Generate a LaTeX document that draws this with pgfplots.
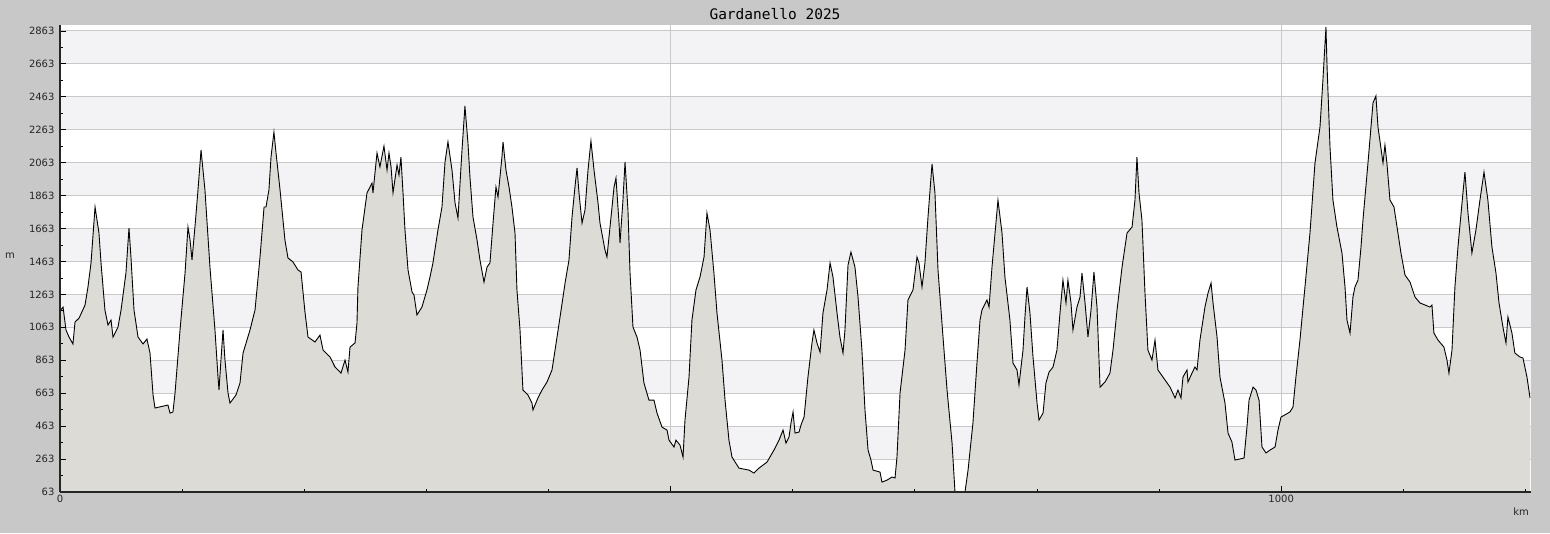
\documentclass[border=0pt]{standalone}
\usepackage{fontspec}
\setmainfont{DejaVu Sans}
\newfontfamily\titlefont{DejaVu Sans Mono}
\usepackage{pgfplots}
\usepackage{pgfplotstable}
\pgfplotsset{compat=1.18}

\definecolor{bgc}{HTML}{C8C8C8}
\definecolor{bandc}{HTML}{F3F2F5}
\definecolor{gridc}{HTML}{C9C9C9}
\definecolor{fillc}{HTML}{DCDBD5}

% elevation profile: km, m
\pgfplotstableread{
km ele
0 1165
0.6 1168
2.5 1186
4.9 1047
7.4 1004
10.6 962
12.3 1095
15.6 1119
20.5 1198
22.9 1308
25.4 1454
28.7 1794
31.9 1636
33.6 1454
36.8 1168
39.3 1077
41.8 1107
43.4 1004
47.5 1065
50.0 1168
54.0 1393
56.5 1666
58.1 1490
60.6 1168
63.9 1004
68.0 962
71.2 992
73.7 907
76.2 652
77.8 573
88.4 591
90.1 542
92.5 549
94.2 664
98.3 1047
102.4 1393
104.8 1672
106.5 1593
108.1 1472
110.5 1672
113.0 1897
115.5 2140
118.7 1897
122.8 1429
126.9 1047
129.4 761
130.2 682
131.8 864
133.5 1047
135.1 864
137.6 664
139.2 603
144.1 652
147.4 725
149.9 907
155.6 1047
159.7 1168
163.8 1490
167.1 1794
168.7 1794
171.1 1897
172.8 2097
175.2 2249
176.9 2122
180.2 1897
184.2 1593
186.7 1484
190.8 1460
194.9 1411
197.4 1399
200.6 1156
203.1 1004
208.8 974
212.9 1016
215.4 925
221.1 883
225.2 822
230.1 785
233.4 864
235.8 791
237.5 943
241.6 968
243.2 1089
244.0 1308
247.3 1654
251.4 1879
255.5 1939
256.3 1879
259.6 2122
262.0 2037
265.3 2164
267.8 2018
269.4 2122
271.1 2037
272.7 1879
276.0 2049
277.6 1988
279.2 2097
280.9 1879
282.5 1654
285.0 1411
288.3 1277
289.9 1259
292.3 1138
296.4 1186
300.5 1290
303.0 1369
305.4 1454
309.5 1654
312.8 1794
315.3 2067
317.7 2189
321.0 2018
323.5 1818
325.9 1727
327.6 1939
329.2 2140
331.6 2407
334.1 2182
335.7 1976
338.2 1733
341.5 1593
343.9 1472
347.2 1338
349.7 1429
352.1 1454
354.6 1696
357.0 1915
358.7 1854
361.9 2097
362.8 2189
365.2 2018
367.7 1915
370.1 1794
372.6 1636
374.2 1290
376.7 1047
379.1 682
383.2 652
386.5 603
387.3 561
391.4 634
394.7 682
398.8 731
402.9 804
405.4 925
409.5 1126
413.6 1332
416.8 1472
419.3 1733
421.7 1915
423.4 2031
425.0 1879
427.5 1696
429.9 1775
432.4 2018
434.8 2195
437.3 2018
440.6 1818
442.2 1696
446.3 1532
447.9 1490
450.4 1672
453.7 1915
455.3 1970
457.8 1696
458.6 1575
461.0 1836
462.7 2067
465.1 1775
466.8 1393
469.2 1065
472.5 1004
475.0 925
478.2 725
482.3 621
486.4 621
488.9 542
493.0 457
497.1 439
498.7 378
502.8 336
504.4 378
507.7 348
510.2 275
511.8 500
515.1 761
517.5 1107
520.8 1290
524.1 1369
527.4 1490
529.8 1757
532.3 1654
535.5 1393
538.0 1150
542.1 864
544.6 621
547.8 378
550.3 275
556.0 208
564.2 196
568.3 178
572.4 208
579.0 245
584.7 318
588.8 378
592.1 439
594.5 360
597.0 397
598.6 482
600.3 549
601.9 421
605.2 427
606.8 470
609.3 518
612.5 761
615.8 968
617.4 1047
619.9 968
622.4 913
624.8 1150
628.1 1290
630.6 1454
633.0 1369
636.3 1150
638.7 1004
641.2 907
642.8 1047
645.3 1441
647.7 1520
651.0 1429
653.5 1247
656.7 925
659.2 561
661.7 318
664.1 257
665.8 196
671.5 184
673.1 123
677.2 135
681.3 154
683.8 148
685.4 275
687.9 664
692.0 925
694.4 1229
698.5 1290
701.8 1490
703.4 1454
705.9 1308
708.3 1454
710.8 1733
714.1 2055
716.5 1879
719.0 1411
723.1 1004
726.4 682
730.5 360
732.9 63
741.1 63
743.6 196
747.6 482
750.9 846
753.4 1107
755.0 1168
759.1 1229
760.8 1186
763.2 1429
765.7 1636
768.1 1836
771.4 1636
773.8 1369
777.9 1107
780.4 846
783.7 804
785.3 713
788.6 925
790.2 1126
791.9 1308
794.3 1150
796.8 883
800.1 603
801.7 500
805.0 542
807.4 725
809.9 791
813.2 822
816.4 925
818.9 1150
821.3 1350
823.8 1211
825.4 1350
827.9 1211
829.5 1047
832.8 1186
835.3 1247
836.9 1393
839.4 1211
841.8 1004
844.3 1168
846.7 1399
849.2 1186
851.7 700
855.8 731
859.8 785
862.3 925
865.6 1168
869.7 1429
873.8 1636
877.9 1672
880.3 1836
881.9 2097
883.6 1879
886.0 1715
888.5 1271
890.9 925
894.2 864
896.7 986
899.1 804
903.2 761
909.0 700
913.1 634
915.5 682
918.0 634
919.6 761
922.9 804
923.7 731
927.0 785
929.4 822
931.1 804
933.5 986
937.6 1186
940.1 1271
942.6 1332
944.2 1211
947.5 1004
949.9 761
954.0 603
956.5 421
959.7 366
962.2 257
969.6 269
972.0 457
973.7 621
977.0 700
979.4 682
981.9 621
984.3 336
987.6 300
990.9 318
995.0 336
997.4 439
999.9 518
1007.2 549
1009.7 579
1012.1 761
1015.4 986
1019.5 1308
1023.6 1636
1027.7 2061
1031.8 2280
1034.2 2565
1036.7 2887
1037.5 2668
1040.0 2158
1042.4 1836
1045.7 1672
1049.8 1514
1052.3 1308
1053.9 1107
1056.4 1028
1058.8 1247
1060.4 1308
1062.9 1350
1065.4 1551
1067.0 1715
1071.1 2061
1075.2 2425
1077.6 2468
1079.3 2280
1083.4 2061
1085.0 2170
1086.6 2061
1089.1 1836
1092.4 1794
1094.9 1672
1098.1 1514
1101.4 1381
1105.5 1338
1109.6 1247
1113.7 1211
1121.9 1186
1123.5 1198
1125.1 1028
1128.4 986
1133.3 943
1135.8 864
1137.4 785
1139.9 925
1142.3 1308
1144.8 1551
1148.1 1818
1150.5 2006
1153.0 1757
1156.2 1514
1159.5 1654
1162.8 1836
1166.1 2006
1169.3 1836
1172.6 1551
1175.9 1393
1178.4 1211
1181.6 1065
1184.1 968
1185.7 1126
1189.0 1028
1191.4 907
1195.5 883
1198.0 877
1201.3 761
1203.8 634
}\profile

\begin{document}
\begin{tikzpicture}
\path[use as bounding box, fill=bgc] (-60pt,-41pt) rectangle (1490pt,492pt);
\fill[white] (0,0) rectangle (1471pt,467pt);
\begin{axis}[
  at={(0,0)}, anchor=south west,
  scale only axis, width=1471pt, height=467pt,
  xmin=0, xmax=1204.6, ymin=63, ymax=2899,
  axis on top,
  axis x line=bottom, axis y line=left,
  axis line style={-, line width=1.2pt, draw=black!85},
  tick align=inside,
  xtick={0,500,1000}, xticklabels={0,,1000},
  minor xtick={100,200,300,400,600,700,800,900,1100,1200},
  ytick={63,263,...,2863},
  minor ytick={163,363,...,2763},
  major tick length=6pt, minor tick length=3pt,
  every tick/.append style={black, line width=0.8pt},
  ticklabel style={font=\fontsize{10}{12}\selectfont, text=black!85},
  yticklabel style={xshift=-2pt},
  /pgf/number format/assume math mode=true,
  /pgf/number format/1000 sep={},
]
% alternating bands
\fill[bandc] (axis cs:0,263) rectangle (axis cs:1204.6,463);
\fill[bandc] (axis cs:0,663) rectangle (axis cs:1204.6,863);
\fill[bandc] (axis cs:0,1063) rectangle (axis cs:1204.6,1263);
\fill[bandc] (axis cs:0,1463) rectangle (axis cs:1204.6,1663);
\fill[bandc] (axis cs:0,1863) rectangle (axis cs:1204.6,2063);
\fill[bandc] (axis cs:0,2263) rectangle (axis cs:1204.6,2463);
\fill[bandc] (axis cs:0,2663) rectangle (axis cs:1204.6,2863);
% grid
\pgfplotsinvokeforeach{263,463,663,863,1063,1263,1463,1663,1863,2063,2263,2463,2663,2863}{
  \draw[gridc, line width=1pt] (axis cs:0,#1) -- (axis cs:1204.6,#1);
}
\draw[gridc, line width=1pt] (axis cs:500,63) -- (axis cs:500,2899);
\draw[gridc, line width=1pt] (axis cs:1000,63) -- (axis cs:1000,2899);
% profile
\addplot[draw=none, fill=fillc, no marks] table[x=km, y=ele] {\profile} \closedcycle;
\addplot[black, line width=0.9pt, no marks] table[x=km, y=ele] {\profile};
\end{axis}
\node[font=\titlefont\fontsize{14.5}{16}\selectfont] at (715pt,478pt) {Gardanello 2025};
\node[font=\fontsize{10}{12}\selectfont, text=black!85] at (-50pt,236pt) {m};
\node[font=\fontsize{10}{12}\selectfont, text=black!85] at (1461pt,-20pt) {km};
\end{tikzpicture}
\end{document}
